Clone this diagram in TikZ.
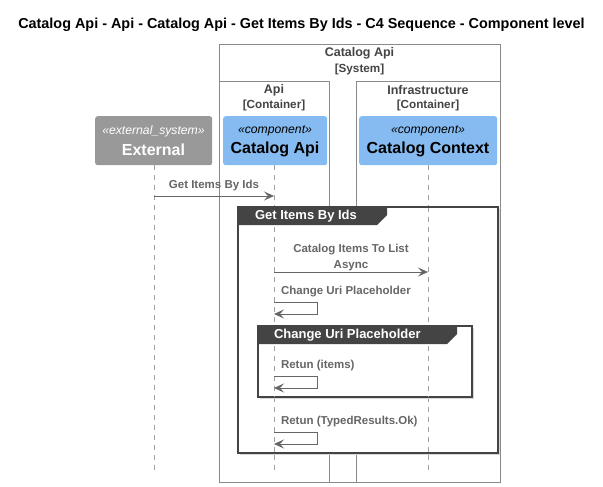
\documentclass[tikz,border=0pt]{standalone}
\usepackage{fontspec}
\setmainfont{Liberation Sans}
\usetikzlibrary{arrows.meta}
\definecolor{extgray}{HTML}{999999}
\definecolor{compblue}{HTML}{85BBF0}
\definecolor{txtgray}{HTML}{666666}
\definecolor{framedark}{HTML}{444444}
\definecolor{boundline}{HTML}{8A8A8A}
\definecolor{lifeline}{HTML}{A0A0A0}
\definecolor{shadowgray}{HTML}{D8D8D8}
\tikzset{
  titletext/.style={font=\fontsize{14.4}{16}\selectfont\bfseries, text=black},
  boundary/.style={draw=boundline, line width=0.8pt, anchor=north west, inner sep=0pt},
  boundtext/.style={font=\fontsize{12.5}{14}\selectfont\bfseries, text=framedark, align=center},
  boundsub/.style={font=\fontsize{11.7}{13}\selectfont\bfseries, text=framedark, align=center},
  comp/.style={rounded corners=2.5pt, anchor=north west, inner sep=0pt, align=center},
  stereo/.style={font=\fontsize{12.2}{13}\selectfont\itshape},
  compname/.style={font=\fontsize{16}{18}\selectfont\bfseries},
  life/.style={draw=lifeline, line width=0.7pt, dash pattern=on 5pt off 5pt},
  msg/.style={draw=txtgray, line width=0.9pt, -{Stealth[length=10pt,width=9pt,inset=4pt]}},
  msgtext/.style={font=\fontsize{11.5}{16}\selectfont\bfseries, text=txtgray, align=center},
  framebox/.style={draw=framedark, line width=1.3pt, anchor=north west, inner sep=0pt},
  frameshadow/.style={fill=shadowgray},
  tabtext/.style={font=\fontsize{13}{15}\selectfont\bfseries, text=white, anchor=west}
}
\begin{document}
\begin{tikzpicture}[x=1pt,y=-1pt]
\useasboundingbox[fill=white] (0,0) rectangle (603,487);

\node[titletext] (title) at (301.5,25) {Catalog Api - Api - Catalog Api - Get Items By Ids - C4 Sequence - Component level};

% boundaries
\node[boundary, minimum width=281pt, minimum height=438pt] (sys) at (219,44) {};
\node[boundtext] (systitle) at (359.5,53) {Catalog Api};
\node[boundsub] (syssub) at (359.5,69) {[System]};
\node[boundary, minimum width=110pt, minimum height=401pt] (apicont) at (219,81) {};
\node[boundtext] (apititle) at (274,90) {Api};
\node[boundsub] (apisub) at (274,105) {[Container]};
\node[boundary, minimum width=144pt, minimum height=401pt] (infcont) at (356,81) {};
\node[boundtext] (inftitle) at (428,90) {Infrastructure};
\node[boundsub] (infsub) at (428,105) {[Container]};

% participants
\node[comp, fill=extgray, text=white, minimum width=117pt, minimum height=49pt] (ext) at (95,116) {};
\node[stereo, text=white] (extst) at (153.5,131) {«external\_system»};
\node[compname, text=white] (extname) at (153.5,149.5) {External};
\node[comp, fill=compblue, text=black, minimum width=104pt, minimum height=49pt] (capi) at (223,116) {};
\node[stereo] (capist) at (275,131) {«component»};
\node[compname] (capiname) at (275,149.5) {Catalog Api};
\node[comp, fill=compblue, text=black, minimum width=138pt, minimum height=49pt] (cctx) at (359,116) {};
\node[stereo] (cctxst) at (428,131) {«component»};
\node[compname] (cctxname) at (428,149.5) {Catalog Context};

% lifelines
\coordinate (extbot) at (154,472);
\coordinate (capibot) at (274,472);
\coordinate (cctxbot) at (428,472);
\draw[life] (ext.south -| extbot) -- (extbot);
\draw[life] (capi.south -| capibot) -- (capibot);
\draw[life] (cctx.south -| cctxbot) -- (cctxbot);

% message 1
\coordinate (m1a) at (154,196);
\coordinate (m1b) at (274,196);
\node[msgtext] (m1t) at (214,186) {Get Items By Ids};
\draw[msg] (m1a) -- (m1b);

% frame 1 (Get Items By Ids)
\fill[frameshadow] (240,209) rectangle (499.5,454.5);
\node[framebox, fill=white, minimum width=259pt, minimum height=245pt] (f1) at (238,207) {};
\draw[life] (f1.north -| capibot) -- (f1.south -| capibot);
\draw[life] (f1.north -| cctxbot) -- (f1.south -| cctxbot);
\draw[framedark, line width=1.3pt] (f1.north west) rectangle (f1.south east);
\fill[framedark] (238,207) -- (387,207) -- (387,215) -- (377,225) -- (238,225) -- cycle;
\node[tabtext] (f1t) at (251.5,216.5) {Get Items By Ids};

% message 2
\coordinate (m2a) at (274,272);
\coordinate (m2b) at (428,272);
\node[msgtext] (m2t) at (351,257.5) {Catalog Items To List\\Async};
\draw[msg] (m2a) -- (m2b);

% message 3 self
\coordinate (m3a) at (274,302);
\coordinate (m3r) at (317,302);
\coordinate (m3b) at (274,314);
\node[msgtext, anchor=west] (m3t) at (277.5,292) {Change Uri Placeholder};
\draw[msg] (m3a) -- (m3r) -- (m3r |- m3b) -- (m3b);

% frame 2 (Change Uri Placeholder)
\fill[frameshadow] (260,328) rectangle (473.5,398.5);
\node[framebox, fill=white, minimum width=213pt, minimum height=70pt] (f2) at (258,326) {};
\draw[life] (f2.north -| capibot) -- (f2.south -| capibot);
\draw[life] (f2.north -| cctxbot) -- (f2.south -| cctxbot);
\draw[framedark, line width=1.3pt] (f2.north west) rectangle (f2.south east);
\fill[framedark] (258,326) -- (457,326) -- (457,334) -- (447,344) -- (258,344) -- cycle;
\node[tabtext] (f2t) at (270.5,335.5) {Change Uri Placeholder};

% message 4 self
\coordinate (m4a) at (274,376);
\coordinate (m4r) at (317,376);
\coordinate (m4b) at (274,388);
\node[msgtext, anchor=west] (m4t) at (277.5,366) {Retun (items)};
\draw[msg] (m4a) -- (m4r) -- (m4r |- m4b) -- (m4b);

% message 5 self
\coordinate (m5a) at (274,432);
\coordinate (m5r) at (317,432);
\coordinate (m5b) at (274,444);
\node[msgtext, anchor=west] (m5t) at (277.5,422) {Retun (TypedResults.Ok)};
\draw[msg] (m5a) -- (m5r) -- (m5r |- m5b) -- (m5b);
\end{tikzpicture}
\end{document}
